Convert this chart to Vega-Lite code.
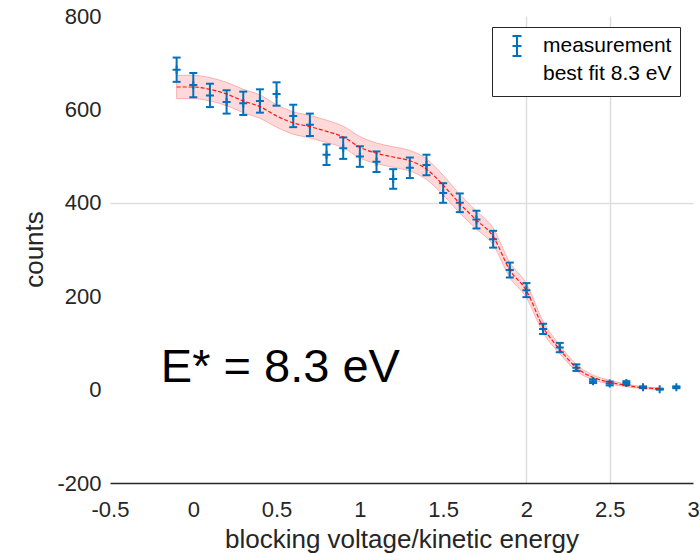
{
  "$schema": "https://vega.github.io/schema/vega-lite/v6.json",
  "autosize": {"type": "none"},
  "width": 583,
  "height": 467,
  "padding": {"left": 110, "top": 16, "right": 7, "bottom": 70},
  "background": "white",
  "config": {
    "view": {"stroke": null},
    "font": "Liberation Sans",
    "axis": {
      "labelFont": "Liberation Sans",
      "labelFontSize": 22,
      "labelColor": "#262626",
      "titleFont": "Liberation Sans",
      "titleFontSize": 26,
      "titleFontWeight": "normal",
      "titleColor": "#262626",
      "ticks": false,
      "tickSize": 0,
      "labelFlush": false,
      "labelOverlap": false,
      "labelBound": false,
      "gridColor": "#dedede",
      "gridWidth": 1.5
    },
    "axisX": {
      "domainColor": "#262626",
      "domainWidth": 1.5,
      "labelBaseline": "alphabetic",
      "labelPadding": 33,
      "titleBaseline": "alphabetic",
      "titleY": 64
    },
    "axisY": {
      "domain": false,
      "labelBaseline": "middle",
      "labelPadding": 9,
      "titleAngle": -90,
      "titleBaseline": "alphabetic",
      "titleX": -68,
      "titleY": 233,
      "titleAlign": "center"
    }
  },
  "datasets": {
    "meas": [
      {"x": -0.1, "y": 685, "lo": 659, "hi": 711},
      {"x": 0.0, "y": 652, "lo": 626, "hi": 678},
      {"x": 0.1, "y": 630, "lo": 605, "hi": 655},
      {"x": 0.2, "y": 616, "lo": 591, "hi": 641},
      {"x": 0.3, "y": 613, "lo": 588, "hi": 638},
      {"x": 0.4, "y": 618, "lo": 593, "hi": 643},
      {"x": 0.5, "y": 633, "lo": 608, "hi": 658},
      {"x": 0.6, "y": 586, "lo": 562, "hi": 610},
      {"x": 0.7, "y": 567, "lo": 543, "hi": 591},
      {"x": 0.8, "y": 503, "lo": 481, "hi": 525},
      {"x": 0.9, "y": 517, "lo": 494, "hi": 540},
      {"x": 1.0, "y": 499, "lo": 477, "hi": 521},
      {"x": 1.1, "y": 488, "lo": 466, "hi": 510},
      {"x": 1.2, "y": 451, "lo": 430, "hi": 472},
      {"x": 1.3, "y": 475, "lo": 453, "hi": 497},
      {"x": 1.4, "y": 481, "lo": 459, "hi": 503},
      {"x": 1.5, "y": 421, "lo": 400, "hi": 442},
      {"x": 1.6, "y": 400, "lo": 380, "hi": 420},
      {"x": 1.7, "y": 364, "lo": 345, "hi": 383},
      {"x": 1.8, "y": 322, "lo": 304, "hi": 340},
      {"x": 1.9, "y": 256, "lo": 240, "hi": 272},
      {"x": 2.0, "y": 213, "lo": 198, "hi": 228},
      {"x": 2.1, "y": 130, "lo": 119, "hi": 141},
      {"x": 2.2, "y": 90, "lo": 80, "hi": 100},
      {"x": 2.3, "y": 47, "lo": 40, "hi": 54},
      {"x": 2.4, "y": 18, "lo": 14, "hi": 22},
      {"x": 2.5, "y": 13, "lo": 9, "hi": 17},
      {"x": 2.6, "y": 14, "lo": 10, "hi": 18},
      {"x": 2.7, "y": 5, "lo": 3, "hi": 7},
      {"x": 2.8, "y": 1, "lo": 0, "hi": 2},
      {"x": 2.9, "y": 5, "lo": 3, "hi": 7}
    ],
    "fit": [
      {"x": -0.1, "fit": 648, "lo": 623, "hi": 673},
      {"x": 0.0, "fit": 648, "lo": 623, "hi": 673},
      {"x": 0.1, "fit": 643, "lo": 618, "hi": 668},
      {"x": 0.2, "fit": 633, "lo": 608, "hi": 658},
      {"x": 0.3, "fit": 618, "lo": 593, "hi": 643},
      {"x": 0.4, "fit": 606, "lo": 581, "hi": 631},
      {"x": 0.5, "fit": 586, "lo": 562, "hi": 610},
      {"x": 0.6, "fit": 571, "lo": 547, "hi": 595},
      {"x": 0.7, "fit": 563, "lo": 539, "hi": 587},
      {"x": 0.8, "fit": 553, "lo": 529, "hi": 577},
      {"x": 0.9, "fit": 541, "lo": 518, "hi": 564},
      {"x": 1.0, "fit": 519, "lo": 496, "hi": 542},
      {"x": 1.1, "fit": 506, "lo": 484, "hi": 528},
      {"x": 1.2, "fit": 498, "lo": 476, "hi": 520},
      {"x": 1.3, "fit": 490, "lo": 468, "hi": 512},
      {"x": 1.4, "fit": 472, "lo": 450, "hi": 494},
      {"x": 1.5, "fit": 438, "lo": 417, "hi": 459},
      {"x": 1.6, "fit": 398, "lo": 378, "hi": 418},
      {"x": 1.7, "fit": 363, "lo": 344, "hi": 382},
      {"x": 1.8, "fit": 328, "lo": 310, "hi": 346},
      {"x": 1.9, "fit": 256, "lo": 240, "hi": 272},
      {"x": 2.0, "fit": 212, "lo": 197, "hi": 227},
      {"x": 2.1, "fit": 134, "lo": 122, "hi": 146},
      {"x": 2.2, "fit": 86, "lo": 77, "hi": 95},
      {"x": 2.3, "fit": 47, "lo": 40, "hi": 54},
      {"x": 2.4, "fit": 26, "lo": 21, "hi": 31},
      {"x": 2.5, "fit": 16, "lo": 12, "hi": 20},
      {"x": 2.6, "fit": 9, "lo": 6, "hi": 12},
      {"x": 2.7, "fit": 4, "lo": 2, "hi": 6},
      {"x": 2.8, "fit": 2, "lo": 0.5, "hi": 3.5}
    ],
    "note": [
      {"x": -0.195, "y": 17, "label": "E* = 8.3 eV"}
    ]
  },
  "layer": [
    {
      "data": {"name": "fit"},
      "mark": {"type": "area", "interpolate": "monotone", "fill": "#ffcfcf", "fillOpacity": 0.8, "stroke": "#f59090", "strokeWidth": 0.8, "strokeOpacity": 0.8},
      "encoding": {
        "x": {
          "field": "x", "type": "quantitative",
          "scale": {"domain": [-0.5, 3], "nice": false, "zero": false},
          "axis": {
            "values": [-0.5, 0, 0.5, 1, 1.5, 2, 2.5, 3],
            "labelExpr": "toString(datum.value)",
            "title": "blocking voltage/kinetic energy",
            "grid": true,
            "gridOpacity": {"condition": {"test": "datum.value == 2 || datum.value == 2.5", "value": 1}, "value": 0}
          }
        },
        "y": {
          "field": "hi", "type": "quantitative",
          "scale": {"domain": [-200, 800], "nice": false, "zero": false},
          "axis": {
            "values": [-200, 0, 200, 400, 600, 800],
            "labelExpr": "toString(datum.value)",
            "title": "counts",
            "grid": true,
            "gridOpacity": {"condition": {"test": "datum.value == 400", "value": 1}, "value": 0}
          }
        },
        "y2": {"field": "lo"}
      }
    },
    {
      "data": {"name": "meas"},
      "mark": {"type": "rule", "strokeWidth": 2},
      "encoding": {
        "x": {"field": "x", "type": "quantitative"},
        "y": {"field": "lo", "type": "quantitative"},
        "y2": {"field": "hi"},
        "color": {
          "datum": "measurement",
          "type": "nominal",
          "scale": {"domain": ["measurement", "best fit 8.3 eV"], "range": ["#0072BD", "transparent"]},
          "legend": {
            "orient": "none",
            "legendX": 382,
            "legendY": 11,
            "title": null,
            "symbolType": "M-0.45,-1H0.45M0,-1V1M-0.45,1H0.45M-0.45,0H0.45",
            "symbolSize": 400,
            "symbolStrokeWidth": 2,
            "symbolFillColor": "transparent",
            "symbolOffset": 6,
            "labelFont": "Liberation Sans",
            "labelFontSize": 21,
            "labelColor": "#000000",
            "labelOffset": 15,
            "padding": 8,
            "rowPadding": 0,
            "strokeColor": "#262626",
            "fillColor": "white"
          }
        }
      }
    },
    {
      "data": {"name": "meas"},
      "mark": {"type": "tick", "orient": "horizontal", "size": 8, "thickness": 2, "color": "#0072BD", "opacity": 1},
      "encoding": {
        "x": {"field": "x", "type": "quantitative"},
        "y": {"field": "lo", "type": "quantitative"}
      }
    },
    {
      "data": {"name": "meas"},
      "mark": {"type": "tick", "orient": "horizontal", "size": 8, "thickness": 2, "color": "#0072BD", "opacity": 1},
      "encoding": {
        "x": {"field": "x", "type": "quantitative"},
        "y": {"field": "hi", "type": "quantitative"}
      }
    },
    {
      "data": {"name": "meas"},
      "mark": {"type": "point", "shape": "M-1,0H1M0,-1V1", "filled": false, "size": 64, "strokeWidth": 2, "color": "#0072BD", "opacity": 1},
      "encoding": {
        "x": {"field": "x", "type": "quantitative"},
        "y": {"field": "y", "type": "quantitative"}
      }
    },
    {
      "data": {"name": "fit"},
      "mark": {"type": "line", "interpolate": "monotone", "color": "#ff0000", "strokeWidth": 1.2, "strokeDash": [4, 2], "opacity": 0.9},
      "encoding": {
        "x": {"field": "x", "type": "quantitative"},
        "y": {"field": "fit", "type": "quantitative"}
      }
    },
    {
      "data": {"name": "note"},
      "mark": {"type": "text", "align": "left", "baseline": "alphabetic", "fontSize": 47, "font": "Liberation Sans", "color": "#000000"},
      "encoding": {
        "x": {"field": "x", "type": "quantitative"},
        "y": {"field": "y", "type": "quantitative"},
        "text": {"field": "label"}
      }
    },
    {
      "mark": {"type": "rule", "color": "#262626", "strokeWidth": 1.5},
      "encoding": {
        "x": {"datum": 3},
        "y": {"datum": -200},
        "y2": {"datum": 800}
      }
    }
  ]
}
